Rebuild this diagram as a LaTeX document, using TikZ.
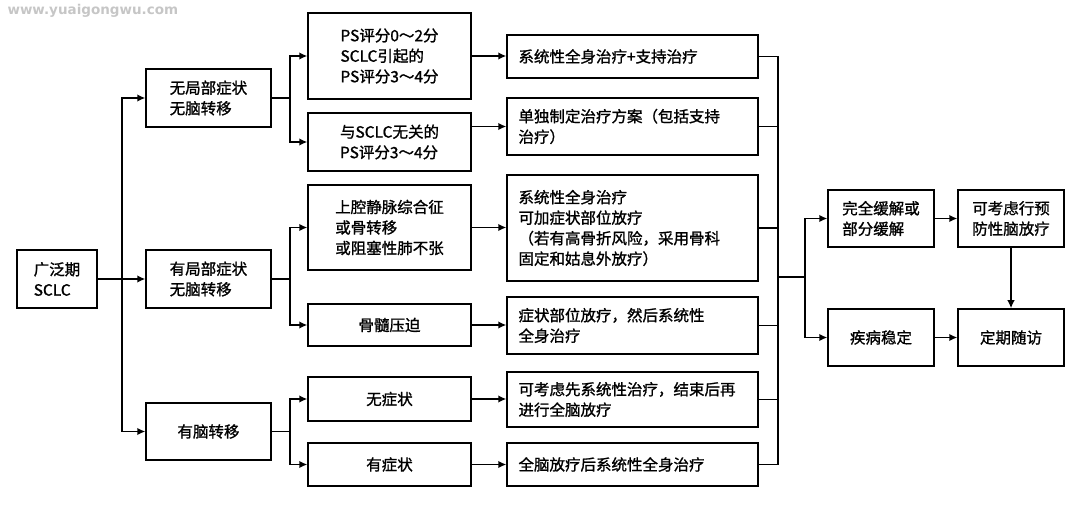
\documentclass[tikz,border=0pt]{standalone}
\usepackage{fontspec}
\setmainfont{Noto Sans CJK SC}[FakeBold=1.2]
\newfontfamily\wmfont{DejaVu Sans}
\usetikzlibrary{arrows.meta}
\newcommand{\fs}{\fontsize{15.5}{20.5}\selectfont}
\tikzset{
  box/.style={draw, line width=1.5pt, rectangle, inner sep=0pt, align=left, font=\fs},
  wbox/.style={draw, line width=1.5pt, rectangle, inner ysep=0pt, inner xsep=11.5pt, text width=228pt, align=left, font=\fs},
  link/.style={line width=1.5pt},
  arr/.style={line width=1.5pt, -{Latex[length=8pt,width=7.5pt]}},
}
\begin{document}
\begin{tikzpicture}[x=1pt,y=-1pt]
\useasboundingbox (0,0) rectangle (1080,505);
\node[anchor=west, text=gray!45, font=\wmfont\bfseries\fontsize{13.5}{13.5}\selectfont] (wm) at (4,11) {www.yuaigongwu.com};
% level 0
\node[box, minimum width=80pt, minimum height=58pt] (root) at (57,279) {广泛期\\SCLC};
% level 1
\node[box, minimum width=125pt, minimum height=58pt] (l1a) at (208.5,98) {无局部症状\\无脑转移};
\node[box, minimum width=125pt, minimum height=58pt] (l1b) at (208.5,279) {有局部症状\\无脑转移};
\node[box, minimum width=125pt, minimum height=57pt] (l1c) at (208.5,431.5) {有脑转移};
% level 2
\node[box, minimum width=163pt, minimum height=86pt] (l2a) at (389.5,56) {PS评分0～2分\\SCLC引起的\\PS评分3～4分};
\node[box, minimum width=163pt, minimum height=58pt] (l2b) at (389.5,142) {与SCLC无关的\\PS评分3～4分};
\node[box, minimum width=163pt, minimum height=85pt] (l2c) at (389.5,227.5) {上腔静脉综合征\\或骨转移\\或阻塞性肺不张};
\node[box, minimum width=163pt, minimum height=42pt] (l2d) at (389.5,325) {骨髓压迫};
\node[box, minimum width=163pt, minimum height=44pt] (l2e) at (389.5,399) {无症状};
\node[box, minimum width=163pt, minimum height=43pt] (l2f) at (389.5,464.5) {有症状};
% level 3
\node[wbox, minimum height=43pt] (l3a) at (632.5,56.5) {系统性全身治疗+支持治疗};
\node[wbox, minimum height=57pt] (l3b) at (632.5,126.5) {单独制定治疗方案（包括支持\\治疗）};
\node[wbox, minimum height=106pt] (l3c) at (632.5,228) {系统性全身治疗\\可加症状部位放疗\\（若有高骨折风险，采用骨科\\固定和姑息外放疗）};
\node[wbox, minimum height=57pt] (l3d) at (632.5,325.5) {症状部位放疗，然后系统性\\全身治疗};
\node[wbox, minimum height=55pt] (l3e) at (632.5,399.5) {可考虑先系统性治疗，结束后再\\进行全脑放疗};
\node[wbox, minimum height=43pt] (l3f) at (632.5,464.5) {全脑放疗后系统性全身治疗};
% level 4
\node[box, minimum width=106pt, minimum height=57pt] (l4a) at (881,218.5) {完全缓解或\\部分缓解};
\node[box, minimum width=106pt, minimum height=57pt] (l4b) at (881,337.5) {疾病稳定};
\node[box, minimum width=106pt, minimum height=57pt] (l4c) at (1011,218.5) {可考虑行预\\防性脑放疗};
\node[box, minimum width=106pt, minimum height=57pt] (l4d) at (1011,337.5) {定期随访};
% connectors level 0 -> 1
\draw[arr] (root.east) -- (l1b.west);
\draw[arr] (root.east) -- ++(24,0) |- (l1a.west);
\draw[arr] (root.east) -- ++(24,0) |- (l1c.west);
% level 1 -> 2
\draw[arr] (l1a.east) -- ++(18,0) |- (l2a.west);
\draw[arr] (l1a.east) -- ++(18,0) |- (l2b.west);
\draw[arr] (l1b.east) -- ++(18,0) |- (l2c.west);
\draw[arr] (l1b.east) -- ++(18,0) |- (l2d.west);
\draw[arr] (l1c.east) -- ++(18,0) |- (l2e.west);
\draw[arr] (l1c.east) -- ++(18,0) |- (l2f.west);
% level 2 -> 3
\draw[arr] (l2a.east) -- (l3a.west |- l2a.east);
\draw[arr] (l2b.east |- l3b.west) -- (l3b.west);
\draw[arr] (l2c.east) -- (l3c.west |- l2c.east);
\draw[arr] (l2d.east) -- (l3d.west |- l2d.east);
\draw[arr] (l2e.east) -- (l3e.west |- l2e.east);
\draw[arr] (l2f.east) -- (l3f.west |- l2f.east);
% collector
\coordinate (col) at (778,277);
\draw[link] (l3a.east) -| (col |- l3a.east) -- (col |- l3f.east) -- (l3f.east);
\draw[link] (l3b.east) -- (col |- l3b.east);
\draw[link] (l3c.east) -- (col |- l3c.east);
\draw[link] (l3d.east) -- (col |- l3d.east);
\draw[link] (l3e.east) -- (col |- l3e.east);
\draw[arr] (col) -- ++(27,0) |- (l4a.west);
\draw[arr] (col) -- ++(27,0) |- (l4b.west);
% level 4
\draw[arr] (l4a.east) -- (l4c.west);
\draw[arr] (l4b.east) -- (l4d.west);
\draw[arr] (l4c.south) -- (l4d.north);
\end{tikzpicture}
\end{document}
